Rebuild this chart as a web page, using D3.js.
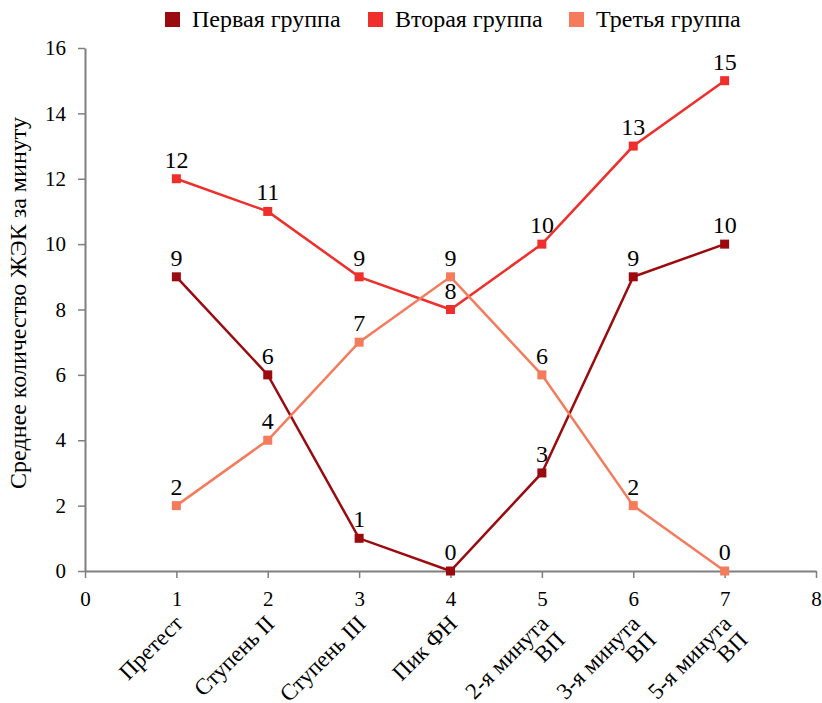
<!DOCTYPE html>
<html>
<head>
<meta charset="utf-8">
<script src="https://cdn.jsdelivr.net/npm/d3@7"></script>
<style>
  body { margin: 0; background: #fff; }
  svg, svg text, svg tspan { font-family: 'Liberation Serif' !important; }
</style>
</head>
<body>
<div id="chart"></div>
<script>
// data
var categories = [["Претест"], ["Ступень II"], ["Ступень III"], ["Пик ФН"],
                  ["2-я минута", "ВП"], ["3-я минута", "ВП"], ["5-я минута", "ВП"]];
var seriesNames = ["Первая группа", "Вторая группа", "Третья группа"];
var group1 = [9, 6, 1, 0, 3, 9, 10];
var group2 = [12, 11, 9, 8, 10, 13, 15];
var group3 = [2, 4, 7, 9, 6, 2, 0];
var xTicks = [0, 1, 2, 3, 4, 5, 6, 7, 8];
var yTicks = [0, 2, 4, 6, 8, 10, 12, 14, 16];
var colors = ["#9b0a0e", "#ee2f2b", "#f47c5c"];

var FONT = "Liberation Serif";
var FS = 24;

var margin = {top: 48, right: 6, bottom: 132, left: 85},
    width = 822 - margin.left - margin.right,
    height = 703 - margin.top - margin.bottom;

var svg = d3.select("#chart")
  .append("svg")
    .attr("width", 822)
    .attr("height", 703)
    .attr("font-family", FONT)
    .attr("font-size", FS)
  .append("g")
    .attr("transform", "translate(" + margin.left + "," + margin.top + ")");

var x = d3.scaleLinear().domain([0, 8]).range([0, width]);
var y = d3.scaleLinear().domain([0, 16]).range([height, 0]);

// Y axis
var yAxis = svg.append("g")
  .call(d3.axisLeft(y).tickValues(yTicks).tickSize(7).tickSizeOuter(0).tickPadding(12));
// X axis
var xAxis = svg.append("g")
  .attr("transform", "translate(0," + height + ")")
  .call(d3.axisBottom(x).tickValues(xTicks).tickSize(7).tickSizeOuter(0).tickPadding(13));

[xAxis, yAxis].forEach(function(a) {
  a.attr("font-family", FONT).attr("font-size", 21);
  a.select(".domain").attr("stroke", "#7f7f7f").attr("stroke-width", 2);
  a.selectAll(".tick line").attr("stroke", "#7f7f7f").attr("stroke-width", 1.5);
  a.selectAll(".tick text").attr("fill", "#000");
});

// category labels, rotated
var cat = svg.append("g").selectAll("text.cat")
  .data(categories)
  .enter()
  .append("text")
    .attr("class", "cat")
    .attr("transform", function(d, i) {
      return "translate(" + (x(i + 1) + 8) + "," + (height + 54) + ") rotate(-45)";
    })
    .attr("text-anchor", "end")
    .attr("font-size", 23);
cat.selectAll("tspan")
  .data(function(d) { return d; })
  .enter()
  .append("tspan")
    .attr("x", 0)
    .attr("dy", function(d, i) { return i === 0 ? 0 : "1.0em"; })
    .text(function(d) { return d; });

// lines + markers + labels
var allSeries = [group1, group2, group3];
var line = d3.line()
  .x(function(d, i) { return x(i + 1); })
  .y(function(d) { return y(d); });

allSeries.forEach(function(values, s) {
  var g = svg.append("g");
  g.append("path")
    .datum(values)
    .attr("fill", "none")
    .attr("stroke", colors[s])
    .attr("stroke-width", 2.5)
    .attr("d", line);
  g.selectAll("rect")
    .data(values)
    .enter()
    .append("rect")
      .attr("x", function(d, i) { return x(i + 1) - 4.5; })
      .attr("y", function(d) { return y(d) - 4.5; })
      .attr("width", 9)
      .attr("height", 9)
      .attr("fill", colors[s]);
  g.selectAll("text")
    .data(values)
    .enter()
    .append("text")
      .attr("x", function(d, i) { return x(i + 1); })
      .attr("y", function(d) { return y(d) - 11; })
      .attr("text-anchor", "middle")
      .text(function(d) { return d; });
});

// Y axis title
svg.append("text")
  .attr("transform", "rotate(-90)")
  .attr("x", -(303 - margin.top))
  .attr("y", -margin.left + 26)
  .attr("text-anchor", "middle")
  .text("Среднее количество ЖЭК за минуту");

// legend
var legendX = [165, 368, 569];
var legend = svg.append("g")
  .attr("transform", "translate(" + (-margin.left) + "," + (-margin.top) + ")");
seriesNames.forEach(function(name, i) {
  legend.append("rect")
    .attr("x", legendX[i])
    .attr("y", 12)
    .attr("width", 15)
    .attr("height", 15)
    .attr("fill", colors[i]);
  legend.append("text")
    .attr("x", legendX[i] + 27)
    .attr("y", 27)
    .text(name);
});
</script>
</body>
</html>
